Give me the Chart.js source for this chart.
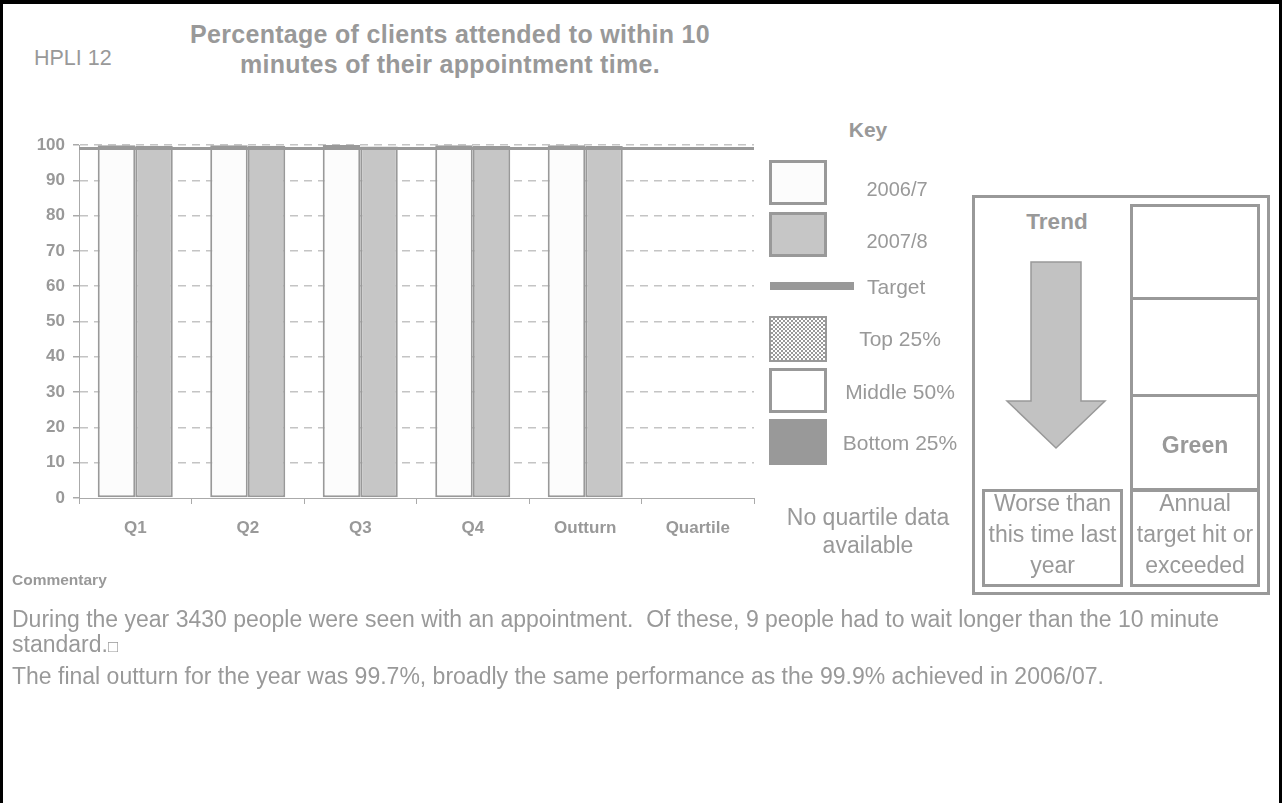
<!DOCTYPE html>
<html>
<head>
<meta charset="utf-8">
<script src="https://cdn.jsdelivr.net/npm/chart.js@4/dist/chart.umd.min.js"></script>
<style>
    html, body { margin: 0; padding: 0; background: #fff; }
    body {
        width: 1282px; height: 803px; position: relative; overflow: hidden;
        font-family: "Liberation Sans", Arial, sans-serif; color: #999;
    }
    .frame {
        position: absolute; left: 0; top: 0; width: 1282px; height: 803px;
        box-sizing: border-box; border-top: 4px solid #000; border-left: 3px solid #000; border-right: 3px solid #000;
        pointer-events: none;
    }
    .txt { position: absolute; white-space: nowrap; }
    .center { text-align: center; }
    .bold { font-weight: bold; }
    .box { position: absolute; box-sizing: border-box; border: 3px solid #999; }
    #chartWrap { position: absolute; left: 0; top: 0; width: 780px; height: 560px; }
</style>
</head>
<body>
<div class="frame"></div>

<!-- header -->
<div class="txt" style="left:34px; top:46px; font-size:21.5px; line-height:24px;">HPLI 12</div>
<div class="txt center bold" style="left:100px; width:700px; top:19px; font-size:25px; line-height:30px; letter-spacing:0.3px;">Percentage of clients attended to within 10<br>minutes of their appointment time.</div>

<div id="chartWrap"><canvas id="hpliChart" width="780" height="560"></canvas></div>

<!-- key -->
<div class="txt center bold" style="left:818px; width:100px; top:119px; font-size:21px; line-height:22px;">Key</div>
<div class="box" style="left:769px; top:160px; width:58px; height:45px; background:#fcfcfc;"></div>
<div class="txt center" style="left:847px; width:100px; top:177px; font-size:20px; line-height:24px;">2006/7</div>
<div class="box" style="left:769px; top:212px; width:58px; height:45px; background:#c6c6c6;"></div>
<div class="txt center" style="left:847px; width:100px; top:229px; font-size:20px; line-height:24px;">2007/8</div>
<div style="position:absolute; left:770px; top:282px; width:84px; height:8px; background:#999;"></div>
<div class="txt" style="left:867px; top:275px; font-size:21px; line-height:24px;">Target</div>
<div class="box" style="left:769px; top:316px; width:58px; height:46px; border-width:2px;
     background: repeating-conic-gradient(#999 0 25%, #fff 0 50%) 0 0 / 4px 4px;"></div>
<div class="txt center" style="left:840px; width:120px; top:327px; font-size:21px; line-height:24px;">Top 25%</div>
<div class="box" style="left:769px; top:368px; width:58px; height:45px; background:#fff;"></div>
<div class="txt center" style="left:830px; width:140px; top:380px; font-size:21px; line-height:24px;">Middle 50%</div>
<div style="position:absolute; left:769px; top:419px; width:58px; height:46px; background:#999;"></div>
<div class="txt center" style="left:830px; width:140px; top:431px; font-size:21px; line-height:24px;">Bottom 25%</div>
<div class="txt center" style="left:768px; width:200px; top:503px; font-size:23px; line-height:28px;">No quartile data<br>available</div>

<!-- trend / status panel -->
<div class="box" style="left:972px; top:195px; width:298px; height:400px;"></div>
<div class="txt center bold" style="left:997px; width:120px; top:209px; font-size:22.5px; line-height:26px;">Trend</div>
<svg style="position:absolute; left:0; top:0;" width="1282" height="803">
    <polygon points="1031,262 1081,262 1081,401 1105,401 1056,448 1007,401 1031,401"
             fill="#c2c2c2" stroke="#999" stroke-width="1.5"/>
</svg>
<div class="box" style="left:1130px; top:204px; width:130px; height:287px;"></div>
<div style="position:absolute; left:1130px; top:297px; width:130px; height:3px; background:#999;"></div>
<div style="position:absolute; left:1130px; top:394px; width:130px; height:3px; background:#999;"></div>
<div class="txt center bold" style="left:1130px; width:130px; top:432px; font-size:23px; line-height:26px;">Green</div>
<div class="box" style="left:982px; top:489px; width:141px; height:98px;"></div>
<div class="txt center" style="left:982px; width:141px; top:488px; font-size:23px; line-height:31px;">Worse than<br>this time last<br>year</div>
<div class="box" style="left:1130px; top:489px; width:130px; height:98px;"></div>
<div class="txt center" style="left:1130px; width:130px; top:488px; font-size:23px; line-height:31px;">Annual<br>target hit or<br>exceeded</div>

<!-- commentary -->
<div class="txt bold" style="left:12px; top:570px; font-size:15.5px; line-height:20px;">Commentary</div>
<div class="txt" style="left:12px; top:607px; font-size:23px; line-height:25px;">During the year 3430 people were seen with an appointment.&nbsp; Of these, 9 people had to wait longer than the 10 minute<br>standard.<span style="font-size:17px;">&#9633;</span></div>
<div class="txt" style="left:12px; top:664px; font-size:23px; line-height:25px;">The final outturn for the year was 99.7%, broadly the same performance as the 99.9% achieved in 2006/07.</div>

<script>
// Quarterly results, % of clients seen within 10 minutes
const categories = ['Q1', 'Q2', 'Q3', 'Q4', 'Outturn', 'Quartile'];
const values0607 = [99.9, 99.9, 100, 99.9, 99.9, null];
const values0708 = [99.8, 99.8, 99.6, 99.7, 99.7, null];
const targetValue = 99;
const yTicks = [0, 10, 20, 30, 40, 50, 60, 70, 80, 90, 100];

const grey = '#999999';
const tickFont = { family: '"Liberation Sans", Arial, sans-serif', size: 17, weight: 'bold' };

// Horizontal target line across the whole plot area
const targetLine = {
    id: 'targetLine',
    afterDatasetsDraw(chart) {
        const { ctx, chartArea, scales } = chart;
        const y = scales.y.getPixelForValue(targetValue);
        ctx.save();
        ctx.strokeStyle = grey;
        ctx.lineWidth = 3;
        ctx.beginPath();
        ctx.moveTo(chartArea.left, y);
        ctx.lineTo(chartArea.right, y);
        ctx.stroke();
        ctx.restore();
    }
};

const ctx = document.getElementById('hpliChart').getContext('2d');
const chart = new Chart(ctx, {
    type: 'bar',
    data: {
        labels: categories,
        datasets: [
            {
                label: '2006/7',
                data: values0607,
                backgroundColor: '#fcfcfc',
                borderColor: grey,
                borderWidth: 2,
                borderSkipped: false
            },
            {
                label: '2007/8',
                data: values0708,
                backgroundColor: '#c6c6c6',
                borderColor: grey,
                borderWidth: 2,
                borderSkipped: false
            }
        ]
    },
    options: {
        responsive: false,
        animation: false,
        devicePixelRatio: 1,
        categoryPercentage: 0.667,
        barPercentage: 1.0,
        layout: {
            padding: { left: 0, top: 145, right: 26, bottom: 0 }
        },
        plugins: {
            legend: { display: false },
            tooltip: { enabled: false }
        },
        scales: {
            x: {
                grid: {
                    offset: true,
                    drawOnChartArea: false,
                    drawTicks: true,
                    tickLength: 6,
                    tickColor: '#aaa'
                },
                border: { color: '#aaa', width: 1 },
                ticks: {
                    color: grey,
                    font: tickFont,
                    padding: 14
                },
                afterFit(scale) { scale.height = 62; }
            },
            y: {
                min: 0,
                max: 100,
                afterBuildTicks(scale) {
                    scale.ticks = yTicks.map(v => ({ value: v }));
                },
                grid: {
                    color: c => (c.tick && c.tick.value === 0) ? 'rgba(0,0,0,0)' : '#c4c4c4',
                    lineWidth: 1.5,
                    tickLength: 6,
                    tickColor: '#aaa',
                    tickBorderDash: []
                },
                border: { color: '#aaa', width: 1, dash: [8, 6] },
                ticks: {
                    color: grey,
                    font: tickFont,
                    padding: 8
                },
                afterFit(scale) { scale.width = 79; }
            }
        }
    },
    plugins: [targetLine]
});
</script>
</body>
</html>
